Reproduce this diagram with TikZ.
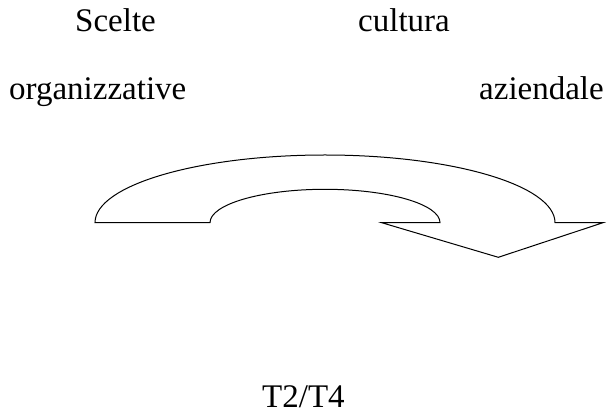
\documentclass[tikz,border=0pt]{standalone}
\usepackage{fontspec}
\setmainfont{Liberation Serif}
\begin{document}
\begin{tikzpicture}[x=1pt,y=1pt,
  label/.style={anchor=base west,inner sep=0pt,font=\fontsize{33}{38}\selectfont},
  bentarrow/.style={draw=black,line width=1pt,fill=white,line join=miter}]
\useasboundingbox (0,0) rectangle (609,414);
% captions
\node[label] (scelte) at (75,382) {Scelte};
\node[label] (cultura) at (358,382) {cultura};
\node[label] (org) at (9,314) {organizzative};
\node[label] (az) at (479,314) {aziendale};
\node[label] (tt) at (262,6) {T2/T4};
% curved block arrow
\draw[bentarrow] (95,191.3)
  arc[start angle=180,end angle=0,x radius=230,y radius=67.7]
  -- (603,191.3) -- (498.3,156.7) -- (381.7,191.3) -- (440,191.3)
  arc[start angle=0,end angle=180,x radius=115,y radius=33.4]
  -- cycle;
\end{tikzpicture}
\end{document}
